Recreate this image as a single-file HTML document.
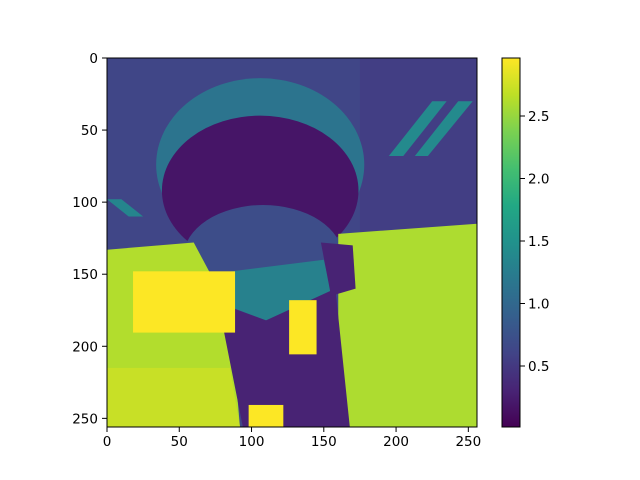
<!DOCTYPE html>
<html><head><meta charset="utf-8"><style>
body{margin:0;background:#fff;}
svg{display:block;font-family:"DejaVu Sans","Liberation Sans",sans-serif;}
</style></head><body>
<svg id="chart" width="640" height="480" viewBox="0 0 640 480" xmlns="http://www.w3.org/2000/svg">
<defs><clipPath id="clip"><rect x="107" y="58" width="370" height="369"/></clipPath>
<linearGradient id="cbgrad" x1="0" y1="1" x2="0" y2="0"></linearGradient></defs>
<g id="img" clip-path="url(#clip)"></g>
<g id="axes"></g>
</svg>
<script>
const xTicks=[0,50,100,150,200,250];
const yTicks=[0,50,100,150,200,250];
const cbTicks=[0.5,1.0,1.5,2.0,2.5];
const vmin=0.012, vmax=2.964;
const regionTypes=['rect','poly','ellipse','ellipse','ellipse','poly','poly','poly','poly','poly','poly','poly','rect','rect','rect'];
const regionValues=[0.62,0.55,1.15,0.18,0.7,2.62,2.6,2.72,1.3,0.3,0.3,1.4,2.96,2.96,2.96];
const regionGeoms=[
 [0,0,256,256],
 [[175,0],[256,0],[256,118],[175,122]],
 [106,74,72,60],
 [106,92,68,52],
 [108,138,55,36],
 [[0,133],[60,128],[85,175],[92,256],[0,256]],
 [[160,122],[256,115],[256,256],[160,256]],
 [[0,215],[85,215],[92,256],[0,256]],
 [[70,150],[150,140],[158,175],[110,182],[78,170]],
 [[77,170],[110,182],[158,160],[168,256],[94,256]],
 [[148,128],[170,130],[172,160],[155,165]],
 [[195,68],[225,30],[235,30],[205,68]],
 [18,148,70.6,42.5],
 [126,168,19,37.6],
 [98,240.7,24,15.3]
];
const extraPoly=[[[213,68],[243,30],[253,30],[222,68]],[[0,98],[10,98],[25,110],[15,110]]];
const extraVals=[1.4,1.35];
const X0=107,Y0=58,S=370/256;
const sx=v=>X0+v*S, sy=v=>Y0+v*369/256;
const stops=["#440154","#482475","#414487","#355f8d","#2a788e","#21918c","#22a884","#44bf70","#7ad151","#bddf26","#fde725"];
function vir(v){let t=(v-vmin)/(vmax-vmin);t=Math.max(0,Math.min(1,t))*10;let i=Math.min(9,Math.floor(t)),f=t-i;
 const h=s=>[1,3,5].map(k=>parseInt(s.substr(k,2),16));const a=h(stops[i]),b=h(stops[i+1]);
 return 'rgb('+a.map((c,k)=>Math.round(c+(b[k]-c)*f)).join(',')+')';}
const NS='http://www.w3.org/2000/svg';
function mk(t,a,p){const e=document.createElementNS(NS,t);for(const k in a)e.setAttribute(k,a[k]);p.appendChild(e);return e;}
const img=document.getElementById('img');
function drawShape(type,val,g){let e;
 if(type==='rect')e=mk('rect',{x:sx(g[0]),y:sy(g[1]),width:g[2]*S,height:g[3]*369/256,fill:vir(val)},img);
 else if(type==='ellipse')e=mk('ellipse',{cx:sx(g[0]),cy:sy(g[1]),rx:g[2]*S,ry:g[3]*369/256,fill:vir(val)},img);
 else e=mk('polygon',{points:g.map(p=>sx(p[0])+','+sy(p[1])).join(' '),fill:vir(val)},img);
 return e;}
regionTypes.forEach((t,i)=>{
 if(i===12){extraPoly.forEach((g,j)=>{const e=drawShape('poly',extraVals[j],g);
  
  });}
 const e=drawShape(t,regionValues[i],regionGeoms[i]);
 
 
});
const ax=document.getElementById('axes');
mk('rect',{x:107,y:58,width:370,height:369,fill:'none',stroke:'#000','stroke-width':1},ax);
xTicks.forEach(v=>{const x=sx(v);mk('line',{x1:x,x2:x,y1:427,y2:432,stroke:'#000'},ax);
 const t=mk('text',{x:x,y:446,'font-size':13.5,'text-anchor':'middle'},ax);t.textContent=v;
 
 });
yTicks.forEach(v=>{const y=sy(v);mk('line',{x1:102,x2:107,y1:y,y2:y,stroke:'#000'},ax);
 const t=mk('text',{x:98,y:y+5,'font-size':13.5,'text-anchor':'end'},ax);t.textContent=v;
 
 });
const grad=document.getElementById('cbgrad');
stops.forEach((c,i)=>mk('stop',{offset:(i/10),'stop-color':c},grad));
const cb=mk('rect',{x:502,y:58,width:18,height:369,fill:'url(#cbgrad)',stroke:'#000','stroke-width':1},ax);


const cy=v=>427-(v-vmin)/(vmax-vmin)*369;
cbTicks.forEach(v=>{const y=cy(v);mk('line',{x1:520,x2:525,y1:y,y2:y,stroke:'#000'},ax);
 const t=mk('text',{x:528,y:y+5,'font-size':13.5},ax);t.textContent=v.toFixed(1);
 
 });
</script>
</body></html>
